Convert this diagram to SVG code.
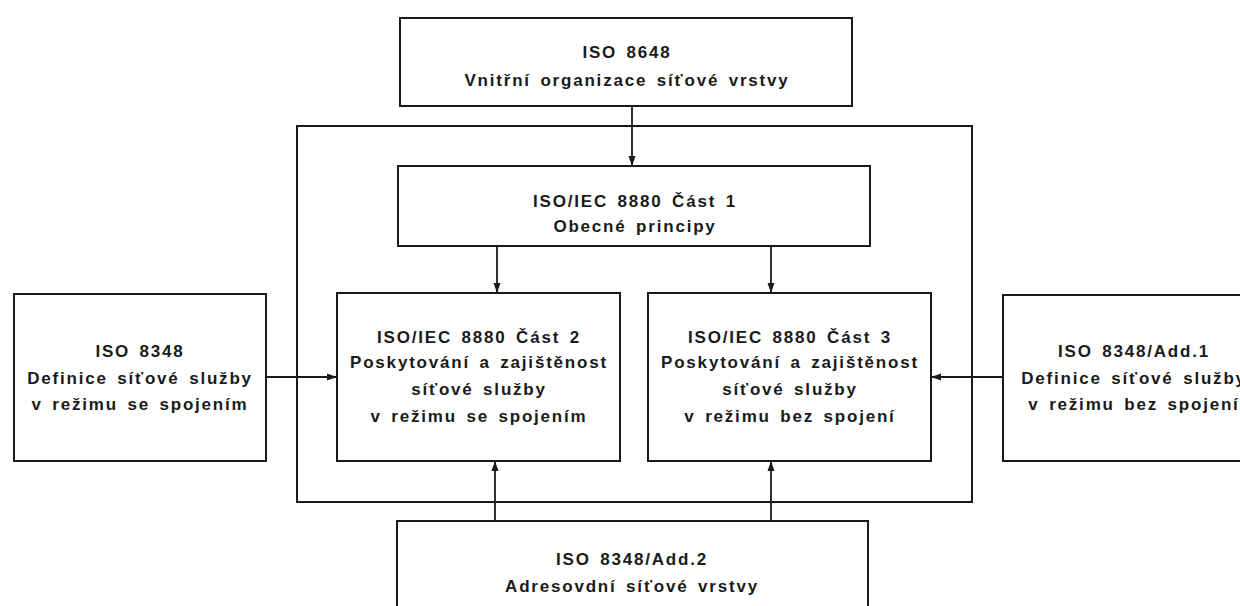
<svg xmlns="http://www.w3.org/2000/svg" width="1240" height="606" viewBox="0 0 1240 606">
<style>
.box{fill:none;stroke:#1a1a1a;stroke-width:2}
.ln{fill:none;stroke:#1a1a1a;stroke-width:1.8}
text{font-family:"Liberation Sans",Arial,sans-serif;font-size:17px;font-weight:bold;fill:#1a1a1a;text-anchor:middle;letter-spacing:1.8px;word-spacing:3px}
</style>
<defs>
<marker id="ah" viewBox="0 0 10 10" refX="10" refY="5" markerWidth="10" markerHeight="10" markerUnits="userSpaceOnUse" orient="auto">
<path d="M0,1.5 L10,5 L0,8.5 Z" fill="#1a1a1a"/>
</marker>
</defs>
<rect x="0" y="0" width="1240" height="606" fill="#fff"/>
<g id="frame"><rect class="box" x="297" y="126" width="675" height="376"/></g>
<g id="connectors">
<line class="ln" x1="632" y1="106" x2="632" y2="166" marker-end="url(#ah)"/>
<line class="ln" x1="497" y1="246" x2="497" y2="293" marker-end="url(#ah)"/>
<line class="ln" x1="771" y1="246" x2="771" y2="293" marker-end="url(#ah)"/>
<line class="ln" x1="266" y1="377" x2="337" y2="377" marker-end="url(#ah)"/>
<line class="ln" x1="1003" y1="377" x2="931" y2="377" marker-end="url(#ah)"/>
<line class="ln" x1="495" y1="521" x2="495" y2="461" marker-end="url(#ah)"/>
<line class="ln" x1="771" y1="521" x2="771" y2="461" marker-end="url(#ah)"/>
</g>
<g id="n_iso8648">
<rect class="box" x="400" y="18" width="452" height="88"/>
<text x="627" y="58">ISO 8648</text>
<text x="627" y="86">Vnitřní organizace síťové vrstvy</text>
</g>
<g id="n_part1">
<rect class="box" x="398" y="166" width="472" height="80"/>
<text x="635" y="207">ISO/IEC 8880 Část 1</text>
<text x="635" y="232">Obecné principy</text>
</g>
<g id="n_part2">
<rect class="box" x="337" y="293" width="283" height="168"/>
<text x="479" y="343">ISO/IEC 8880 Část 2</text>
<text x="479" y="368">Poskytování a zajištěnost</text>
<text x="479" y="395">síťové služby</text>
<text x="479" y="422">v režimu se spojením</text>
</g>
<g id="n_part3">
<rect class="box" x="648" y="293" width="283" height="168"/>
<text x="790" y="343">ISO/IEC 8880 Část 3</text>
<text x="790" y="368">Poskytování a zajištěnost</text>
<text x="790" y="395">síťové služby</text>
<text x="790" y="422">v režimu bez spojení</text>
</g>
<g id="n_iso8348">
<rect class="box" x="14" y="294" width="252" height="167"/>
<text x="140" y="357">ISO 8348</text>
<text x="140" y="384">Definice síťové služby</text>
<text x="140" y="410">v režimu se spojením</text>
</g>
<g id="n_add1">
<rect class="box" x="1003" y="295" width="262" height="166"/>
<text x="1134" y="357">ISO 8348/Add.1</text>
<text x="1134" y="384">Definice síťové služby</text>
<text x="1134" y="410">v režimu bez spojení</text>
</g>
<g id="n_add2">
<rect class="box" x="397" y="521" width="471" height="100"/>
<text x="632" y="565">ISO 8348/Add.2</text>
<text x="632" y="592">Adresovdní síťové vrstvy</text>
</g>
</svg>
